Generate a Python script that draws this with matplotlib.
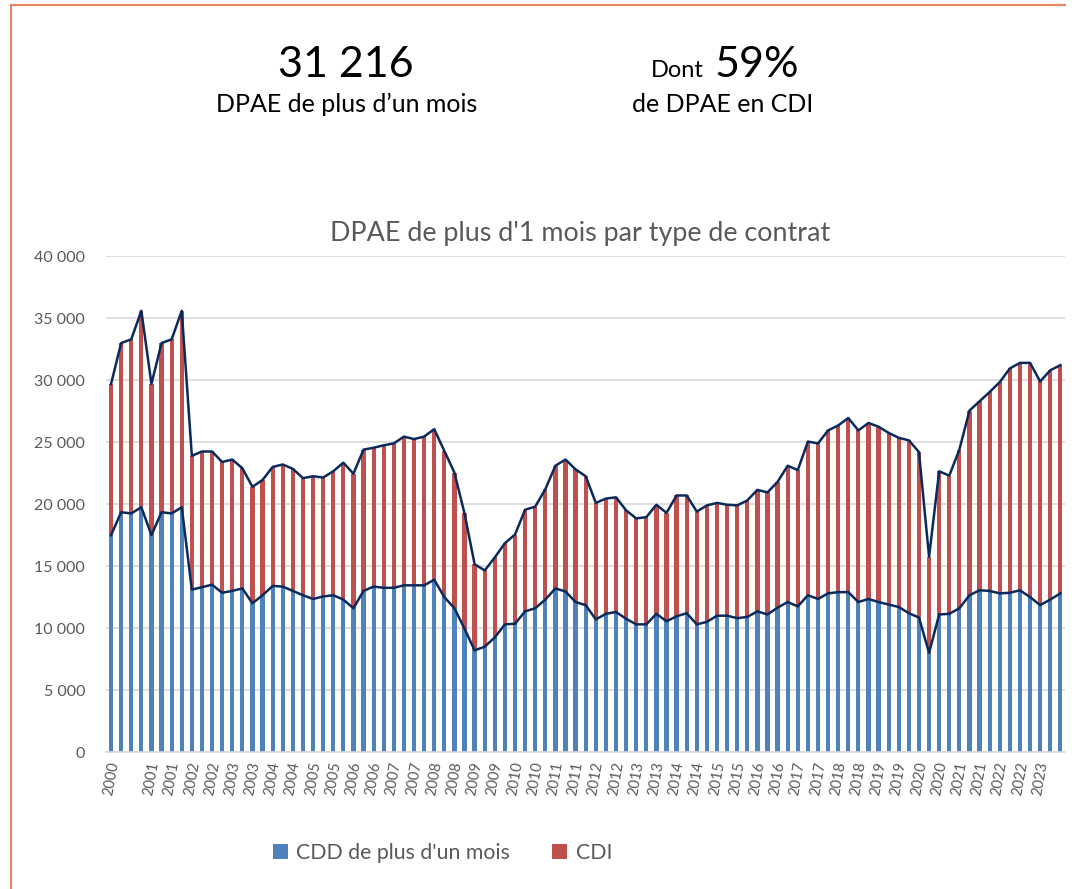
import matplotlib
matplotlib.use("Agg")
import matplotlib.pyplot as plt
import numpy as np

plt.rcParams['font.family'] = ['Lato', 'DejaVu Sans']

# quarterly series, 2000 Q1 -> 2023 Q3
cdd = [17500, 19350, 19250, 19750, 17500, 19350, 19250, 19750,
       13100, 13300, 13500, 12850, 13000, 13200, 12000, 12650,
       13400, 13350, 13000, 12650, 12350, 12550, 12650, 12300,
       11600, 13000, 13350, 13250, 13250, 13450, 13450, 13450,
       13900, 12500, 11600, 9950, 8200, 8500, 9250, 10300,
       10350, 11350, 11600, 12300, 13200, 12950, 12100, 11850,
       10700, 11150, 11300, 10750, 10300, 10300, 11150, 10550,
       10950, 11200, 10300, 10500, 11000, 11000, 10800, 10900,
       11350, 11100, 11650, 12100, 11750, 12650, 12350, 12800,
       12900, 12900, 12100, 12350, 12100, 11900, 11700, 11200,
       10850, 8000, 11100, 11150, 11600, 12650, 13050, 13000,
       12800, 12850, 13050, 12500, 11850, 12300, 12800]
total = [29700, 33000, 33300, 35600, 29700, 33000, 33300, 35600,
         23900, 24250, 24250, 23400, 23600, 22900, 21400, 21950,
         23000, 23200, 22850, 22100, 22250, 22150, 22650, 23350,
         22450, 24400, 24550, 24750, 24900, 25450, 25250, 25450,
         26050, 24300, 22550, 19250, 15150, 14650, 15700, 16850,
         17550, 19550, 19800, 21200, 23100, 23600, 22800, 22250,
         20100, 20450, 20550, 19500, 18850, 18950, 19950, 19300,
         20700, 20700, 19400, 19900, 20100, 19950, 19900, 20300,
         21150, 20950, 21800, 23100, 22750, 25050, 24900, 25950,
         26350, 26950, 25950, 26550, 26250, 25750, 25350, 25150,
         24200, 15750, 22650, 22300, 24400, 27550, 28300, 29050,
         29850, 30950, 31400, 31400, 29900, 30800, 31216]
cdi = [t - c for t, c in zip(total, cdd)]
years = [2000 + i // 4 for i in range(len(total))]
hidden_labels = [2, 94]

blue = '#4F81BD'
red = '#C0504D'
navy = '#0B2A5C'
grey = '#595959'

fig = plt.figure(figsize=(10.74, 8.89), dpi=100)
ax = fig.add_axes([0.0987, 0.1541, 0.8933, 0.5576])

x = np.arange(len(total))
b1 = ax.bar(x, cdd, width=0.42, color=blue, zorder=2)
b2 = ax.bar(x, cdi, bottom=cdd, width=0.42, color=red, zorder=2)
ax.plot(x, total, color=navy, lw=1.8, zorder=3)
ax.plot(x, cdd, color=navy, lw=1.8, zorder=3)

ax.set_xlim(-0.5, len(total) - 0.5)
ax.set_ylim(0, 40000)
ax.set_yticks(range(0, 40001, 5000))
ax.set_yticklabels([f"{v:,}".replace(",", " ") for v in range(0, 40001, 5000)])
ax.yaxis.grid(True, color='#D9D9D9', lw=1.2, zorder=0)
ticks = x[::2]
ax.set_xticks(ticks)
ax.set_xticklabels(['' if i in hidden_labels else str(years[i]) for i in ticks],
                   rotation=80, fontsize=10.5, color=grey)
ax.tick_params(axis='y', length=0, pad=15, labelsize=11.5, labelcolor=grey)
ax.tick_params(axis='x', length=0, pad=6)
for s in ['top', 'right', 'left']:
    ax.spines[s].set_visible(False)
ax.spines['bottom'].set_color('#D9D9D9')
ax.spines['bottom'].set_linewidth(1.2)

fig.text(580 / 1074, 1 - 234 / 889, "DPAE de plus d'1 mois par type de contrat",
         fontsize=19.4, color=grey, ha='center', va='center')

fig.legend([b1, b2], ["CDD de plus d'un mois", "CDI"], loc='center',
           bbox_to_anchor=(0.412, 0.0405), ncol=2, frameon=False, fontsize=15.3,
           labelcolor=grey, handlelength=0.7, handleheight=0.7,
           columnspacing=2.0, handletextpad=0.4)

# header figures
fig.text(346 / 1074, 1 - 77 / 889, "31 216", fontsize=31, ha='center', va='baseline')
fig.text(347 / 1074, 1 - 112 / 889, "DPAE de plus d\u2019un mois", fontsize=18,
         ha='center', va='baseline')
fig.text(704 / 1074, 1 - 77 / 889, "Dont", fontsize=17, ha='right', va='baseline')
fig.text(715 / 1074, 1 - 77 / 889, "59%", fontsize=31, ha='left', va='baseline')
fig.text(723 / 1074, 1 - 112 / 889, "de DPAE en CDI", fontsize=18,
         ha='center', va='baseline')

# frame around the panel
border = '#E8835F'
fig.add_artist(plt.Line2D([11 / 1074, 11 / 1074], [0, 1 - 5 / 889],
                          transform=fig.transFigure, color=border, lw=1.5))
fig.add_artist(plt.Line2D([11 / 1074, 1065 / 1074], [1 - 5 / 889, 1 - 5 / 889],
                          transform=fig.transFigure, color=border, lw=1.5))

fig.savefig('out.png', dpi=100)
